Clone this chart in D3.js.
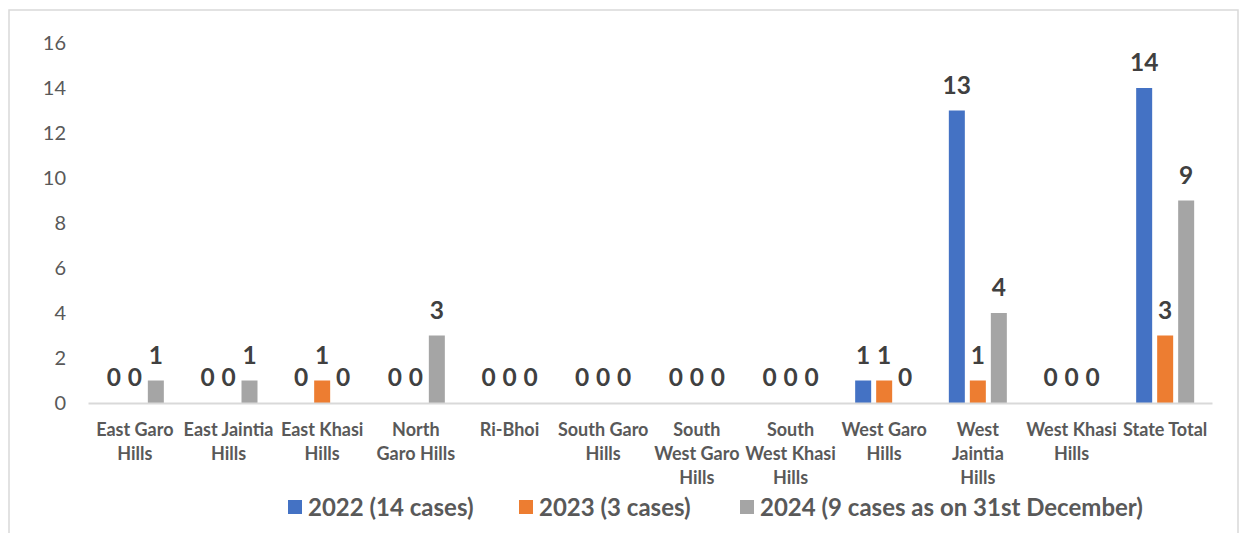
<!DOCTYPE html>
<html><head><meta charset="utf-8">
<script src="https://cdn.jsdelivr.net/npm/d3@7"></script>
<style>body{margin:0;background:#fff}svg{display:block}</style>
</head><body>
<script>
const categories = [["East Garo","Hills"],["East Jaintia","Hills"],["East Khasi","Hills"],["North","Garo Hills"],["Ri-Bhoi"],["South Garo","Hills"],["South","West Garo","Hills"],["South","West Khasi","Hills"],["West Garo","Hills"],["West","Jaintia","Hills"],["West Khasi","Hills"],["State Total"]];
const seriesNames = ["2022 (14 cases)","2023 (3 cases)","2024 (9 cases as on 31st December)"];
const v2022 = [0,0,0,0,0,0,0,0,1,13,0,14];
const v2023 = [0,0,1,0,0,0,0,0,1,1,0,3];
const v2024 = [1,1,0,3,0,0,0,0,0,4,0,9];
const yTicks = [0,2,4,6,8,10,12,14,16];
const colors = ["#4472C4","#ED7D31","#A5A5A5"];
const series = [v2022,v2023,v2024];

const W=1246,H=533;
const svg=d3.select("body").append("svg").attr("width",W).attr("height",H);
const font="Lato, 'Noto Sans', sans-serif";
svg.append("rect").attr("x",9).attr("y",10).attr("width",1229).attr("height",560).attr("fill","none").attr("stroke","#d9d9d9").attr("stroke-width",1.5);

const x0=d3.scaleBand().domain(d3.range(categories.length)).range([88,1212]);
const y=d3.scaleLinear().domain([0,16]).range([403,43]);
const bw=16, gap=5;
const x1=d3.scaleBand().domain([0,1,2]).range([-(bw*3+gap*2)/2,(bw*3+gap*2)/2]).paddingInner(gap/(bw+gap));

// y axis labels
const ya=svg.append("g").attr("transform","translate(66,0)").call(d3.axisLeft(y).tickValues(yTicks).tickSize(0).tickPadding(0));
ya.select(".domain").remove();
ya.selectAll("text").attr("font-family",font).attr("font-size",20).attr("fill","#595959");

// bars
series.forEach((vals,si)=>{
  const g=svg.append("g");
  g.selectAll("rect").data(vals).join("rect")
   .attr("x",(d,i)=>x0(i)+x0.bandwidth()/2+x1(si))
   .attr("y",d=>y(d)).attr("width",x1.bandwidth()).attr("height",d=>y(0)-y(d))
   .attr("fill",colors[si]);
  g.selectAll("text").data(vals).join("text")
   .attr("x",(d,i)=>x0(i)+x0.bandwidth()/2+x1(si)+x1.bandwidth()/2)
   .attr("y",d=>y(d)-17).attr("text-anchor","middle")
   .attr("font-family",font).attr("font-weight","bold").attr("font-size",24.5).attr("fill","#404040")
   .text(d=>d);
});

// x axis
const xa=svg.append("g").attr("transform","translate(0,403)").call(d3.axisBottom(x0).tickSize(0).tickFormat(""));
xa.select(".domain").attr("stroke","#d9d9d9").attr("stroke-width",2);
xa.selectAll(".tick").each(function(i){
  const t=d3.select(this).append("text").attr("text-anchor","middle").attr("fill","#595959")
    .attr("font-family",font).attr("font-weight","bold").attr("font-size",18);
  categories[i].forEach((ln,k)=>t.append("tspan").attr("x",0).attr("y",33+k*24).text(ln));
});

// legend
const legX=[288,519,740];
seriesNames.forEach((n,i)=>{
  svg.append("rect").attr("x",legX[i]).attr("y",500).attr("width",14).attr("height",14).attr("fill",colors[i]);
  svg.append("text").attr("x",legX[i]+20).attr("y",516).attr("font-family",font).attr("font-weight","bold")
    .attr("font-size",24).attr("fill","#595959").text(n);
});
</script>
</body></html>
